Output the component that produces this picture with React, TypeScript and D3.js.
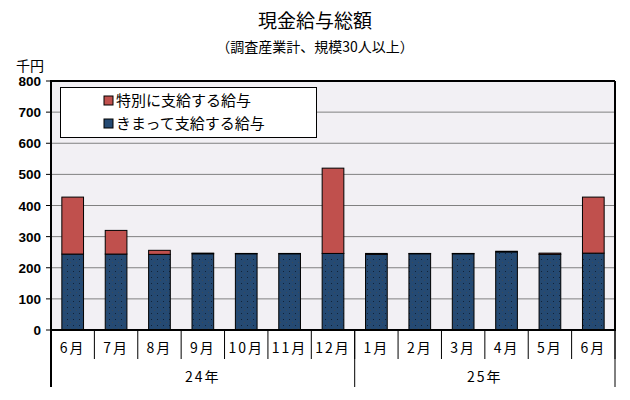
import React from "react";
import * as d3 from "d3";

const months = ["6月", "7月", "8月", "9月", "10月", "11月", "12月", "1月", "2月", "3月", "4月", "5月", "6月"];
const fixedPay = [244, 244, 243, 245, 245, 245, 246, 243, 245, 245, 251, 243, 247];
const specialPay = [183, 76, 13, 2, 1, 1, 274, 3, 1, 1, 2, 4, 180];
const years = [
  { label: "24年", start: 0, end: 7 },
  { label: "25年", start: 7, end: 13 },
];
const yTicks = [0, 100, 200, 300, 400, 500, 600, 700, 800];
const seriesNames = ["特別に支給する給与", "きまって支給する給与"];

const W = 630, H = 400;
const L = 51, R = 615, T = 81, B = 330;
const RED = "#C0504D";
const BLUE = "#254A73";
const JP = "'Noto Sans CJK JP', 'Noto Sans', sans-serif";

export default function App() {
  const x = d3.scaleBand<number>().domain(d3.range(months.length)).range([L, R]).paddingInner(0.5).paddingOuter(0.25);
  const y = d3.scaleLinear().domain([0, 800]).range([B, T]);
  const step = x.step();
  const edge = (i: number) => L + i * step;

  return (
    <svg width={W} height={H} style={{ position: "absolute", left: 0, top: 0, background: "#fff" }}>
      <defs>
        <pattern id="dots" width="6" height="6" patternUnits="userSpaceOnUse">
          <rect width="6" height="6" fill={BLUE} />
          <rect x="1" y="1" width="1" height="1" fill="#122236" />
          <rect x="4" y="4" width="1" height="1" fill="#3a4a5a" />
        </pattern>
      </defs>
      <text x={315} y={28} textAnchor="middle" fontFamily={JP} fontSize={19} fill="#000">現金給与総額</text>
      <text x={315} y={52} textAnchor="middle" fontFamily={JP} fontSize={14} fill="#000">（調査産業計、規模30人以上）</text>
      <text x={16} y={71} fontFamily={JP} fontSize={14} fill="#000">千円</text>

      <rect x={L} y={T} width={R - L} height={B - T} fill="#F2F0F4" />
      {yTicks.filter(t => t > 0 && t < 800).map(t => (
        <line key={t} x1={L} x2={R} y1={y(t)} y2={y(t)} stroke="#808080" strokeWidth={1} />
      ))}
      {yTicks.map(t => (
        <g key={"yt" + t}>
          <line x1={46} x2={L} y1={y(t)} y2={y(t)} stroke="#000" />
          <text x={41} y={y(t) + 5} textAnchor="end" fontFamily="'Liberation Sans', Arial, sans-serif" fontWeight="bold" fontSize={13.5} fill="#000">{t}</text>
        </g>
      ))}

      {months.map((m, i) => {
        const bx = x(i)!;
        const bw = x.bandwidth();
        const f = fixedPay[i];
        const s = specialPay[i];
        return (
          <g key={i}>
            <rect x={bx} y={y(f)} width={bw} height={y(0) - y(f)} fill="url(#dots)" stroke="#000" strokeWidth={1} />
            <rect x={bx} y={y(f + s)} width={bw} height={y(f) - y(f + s)} fill={RED} stroke="#000" strokeWidth={1} />
          </g>
        );
      })}

      <line x1={L} x2={R} y1={T} y2={T} stroke="#000" strokeWidth={2} />
      <line x1={R} x2={R} y1={T} y2={B} stroke="#000" strokeWidth={2} />
      <line x1={L} x2={L} y1={T - 1} y2={387} stroke="#000" strokeWidth={2} />
      <line x1={L} x2={R + 1} y1={B} y2={B} stroke="#000" strokeWidth={2} />

      {months.map((m, i) => (
        <g key={"m" + i}>
          <line x1={edge(i + 1)} x2={edge(i + 1)} y1={B} y2={359} stroke="#000" />
          <text x={edge(i) + step / 2} y={353} textAnchor="middle" fontFamily={JP} fontSize={14} letterSpacing={2} fill="#000">{m}</text>
        </g>
      ))}
      {years.map(yr => (
        <g key={yr.label}>
          <line x1={edge(yr.end)} x2={edge(yr.end)} y1={B} y2={387} stroke="#000" />
          <text x={(edge(yr.start) + edge(yr.end)) / 2} y={382} textAnchor="middle" fontFamily={JP} fontSize={14} letterSpacing={2} fill="#000">{yr.label}</text>
        </g>
      ))}

      <rect x={60.5} y={87.5} width={256} height={50} fill="#fff" stroke="#000" strokeWidth={1} />
      {seriesNames.map((n, i) => (
        <g key={n}>
          <rect x={104} y={96 + i * 23} width={9} height={9} fill={i === 0 ? RED : BLUE} stroke="#000" strokeWidth={1} />
          <text x={116} y={106 + i * 23} fontFamily={JP} fontSize={15} fill="#000">{n}</text>
        </g>
      ))}
    </svg>
  );
}
